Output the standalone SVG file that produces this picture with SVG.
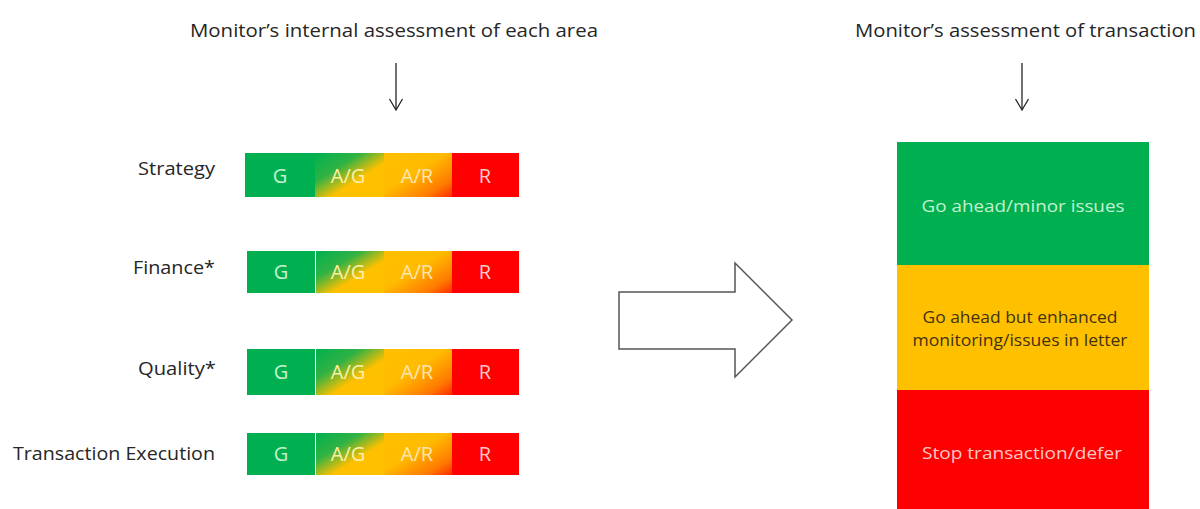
<svg xmlns="http://www.w3.org/2000/svg" width="1200" height="509" viewBox="0 0 1200 509">
<style>
.t{font-family:"Open Sans","Liberation Sans",sans-serif;fill:#262626;font-size:19px}
.b{font-family:"Open Sans","Liberation Sans",sans-serif;font-size:20px;text-anchor:middle}
.g{fill:#00b050}.y{fill:#ffc000}.r{fill:#ff0000}
.tg{fill:#c4f2d0}.ty{fill:#fff0a8}.tr{fill:#ffc8c8}.tar{fill:#ffe6b0}
.c{font-family:"Open Sans","Liberation Sans",sans-serif;font-size:17px;text-anchor:middle}
.sep{stroke:#ffffff;stroke-width:1}
.ar{stroke:#262626;stroke-width:1.3;fill:none}
</style>
<defs>
<linearGradient id="ag" x1="0" y1="0" x2="1" y2="1">
<stop offset="0" stop-color="#00b050"/>
<stop offset="0.33" stop-color="#30b244"/>
<stop offset="0.62" stop-color="#ffc000"/>
<stop offset="1" stop-color="#ffc000"/>
</linearGradient>
<linearGradient id="arg" x1="0" y1="0" x2="1" y2="1">
<stop offset="0" stop-color="#ffc000"/>
<stop offset="0.45" stop-color="#ffbb00"/>
<stop offset="0.8" stop-color="#ff7a00"/>
<stop offset="1" stop-color="#ff2a00"/>
</linearGradient>
</defs>
<rect width="1200" height="509" fill="#ffffff"/>
<g id="title-left"><text class="t" x="190" y="37" textLength="408" lengthAdjust="spacingAndGlyphs">Monitor’s internal assessment of each area</text></g>
<g id="title-right"><text class="t" x="855" y="37" textLength="341" lengthAdjust="spacingAndGlyphs">Monitor’s assessment of transaction</text></g>

<g id="strategy">
<text class="t" x="138" y="175" textLength="77" lengthAdjust="spacingAndGlyphs">Strategy</text>
<rect class="g" x="245" y="153" width="70" height="44"/>
<rect x="315" y="153" width="69" height="44" fill="url(#ag)"/>
<rect x="384" y="153" width="68" height="44" fill="url(#arg)"/>
<rect class="r" x="452" y="153" width="67" height="44"/>
<text class="b tg" x="280" y="183">G</text>
<text class="b ty" x="348" y="183">A/G</text>
<text class="b tar" x="417" y="183">A/R</text>
<text class="b tr" x="485" y="183">R</text>
</g>
<g id="finance">
<text class="t" x="133" y="274" textLength="82" lengthAdjust="spacingAndGlyphs">Finance*</text>
<rect class="g" x="247" y="251" width="68" height="42"/>
<rect x="315" y="251" width="69" height="42" fill="url(#ag)"/>
<rect x="384" y="251" width="68" height="42" fill="url(#arg)"/>
<rect class="r" x="452" y="251" width="67" height="42"/>
<line class="sep" x1="315.5" y1="251" x2="315.5" y2="293"/>
<text class="b tg" x="281" y="279">G</text>
<text class="b ty" x="348" y="279">A/G</text>
<text class="b tar" x="417" y="279">A/R</text>
<text class="b tr" x="485" y="279">R</text>
</g>
<g id="quality">
<text class="t" x="138" y="375" textLength="78" lengthAdjust="spacingAndGlyphs">Quality*</text>
<rect class="g" x="247" y="349" width="68" height="46"/>
<rect x="315" y="349" width="69" height="46" fill="url(#ag)"/>
<rect x="384" y="349" width="68" height="46" fill="url(#arg)"/>
<rect class="r" x="452" y="349" width="67" height="46"/>
<line class="sep" x1="315.5" y1="349" x2="315.5" y2="395"/>
<text class="b tg" x="281" y="379">G</text>
<text class="b ty" x="348" y="379">A/G</text>
<text class="b tar" x="417" y="379">A/R</text>
<text class="b tr" x="485" y="379">R</text>
</g>
<g id="execution">
<text class="t" x="13" y="460" textLength="202" lengthAdjust="spacingAndGlyphs">Transaction Execution</text>
<rect class="g" x="247" y="433" width="68" height="42"/>
<rect x="315" y="433" width="69" height="42" fill="url(#ag)"/>
<rect x="384" y="433" width="68" height="42" fill="url(#arg)"/>
<rect class="r" x="452" y="433" width="67" height="42"/>
<line class="sep" x1="315.5" y1="433" x2="315.5" y2="475"/>
<text class="b tg" x="281" y="461">G</text>
<text class="b ty" x="348" y="461">A/G</text>
<text class="b tar" x="417" y="461">A/R</text>
<text class="b tr" x="485" y="461">R</text>
</g>

<g id="outcome-green">
<rect class="g" x="897" y="142" width="252" height="123"/>
<text class="c tg" x="1023" y="212" textLength="203" lengthAdjust="spacingAndGlyphs">Go ahead/minor issues</text>
</g>
<g id="outcome-amber">
<rect class="y" x="897" y="265" width="252" height="125"/>
<text class="c" fill="#3f3210" x="1020" y="323" textLength="195" lengthAdjust="spacingAndGlyphs">Go ahead but  enhanced</text>
<text class="c" fill="#3f3210" x="1020" y="346" textLength="215" lengthAdjust="spacingAndGlyphs">monitoring/issues  in letter</text>
</g>
<g id="outcome-red">
<rect class="r" x="897" y="390" width="252" height="119"/>
<text class="c tr" x="1022" y="459" textLength="200" lengthAdjust="spacingAndGlyphs">Stop transaction/defer</text>
</g>

<g id="connectors">
<line class="ar" x1="396" y1="63" x2="396" y2="110"/>
<polyline class="ar" points="389.5,99 396,110 402.5,99"/>
<line class="ar" x1="1022" y1="63" x2="1022" y2="110"/>
<polyline class="ar" points="1015.5,99 1022,110 1028.5,99"/>
<polygon points="619,292 735,292 735,263 792,320 735,377 735,349 619,349" fill="#ffffff" stroke="#555555" stroke-width="1.5"/>
</g>
</svg>
